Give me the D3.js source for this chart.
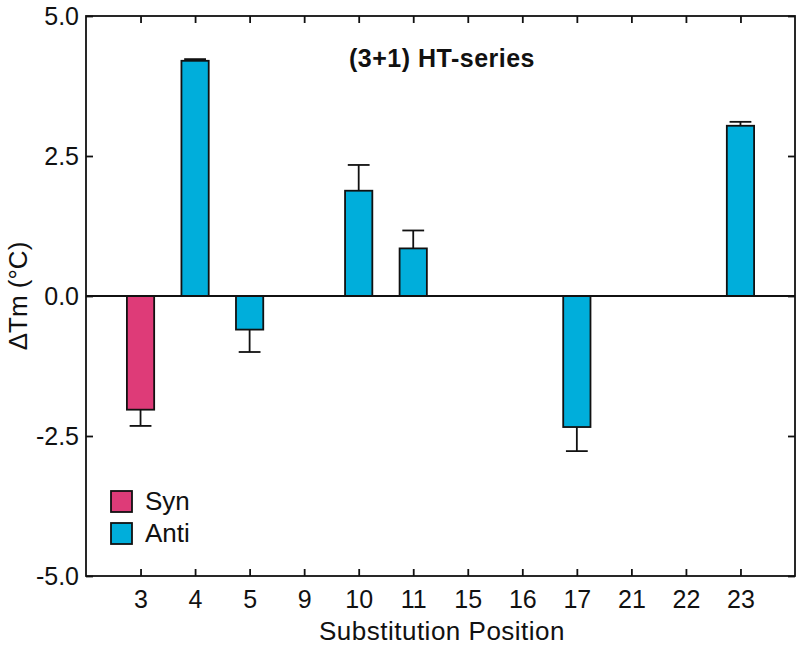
<!DOCTYPE html>
<html>
<head>
<meta charset="utf-8">
<script src="https://cdn.jsdelivr.net/npm/d3@7"></script>
<style>
  body { margin: 0; background: #fff; }
  text { font-family: "Liberation Sans", Arial, sans-serif; fill: #111; }
</style>
</head>
<body>
<svg id="chart" width="800" height="646"></svg>
<script>
// data
const positions = ["3", "4", "5", "9", "10", "11", "15", "16", "17", "21", "22", "23"];
const conformation = ["Syn", "Anti", "Anti", null, "Anti", "Anti", null, null, "Anti", null, null, "Anti"];
const deltaTm = [-2.03, 4.2, -0.6, null, 1.88, 0.85, null, null, -2.34, null, null, 3.04];
const errTm = [0.29, 0.03, 0.4, null, 0.46, 0.32, null, null, 0.43, null, null, 0.07];
const yTicks = [-5, -2.5, 0, 2.5, 5];
const legendItems = ["Syn", "Anti"];

const colors = { Syn: "#de3b78", Anti: "#00aedb" };

const svg = d3.select("#chart");
const margin = { top: 16, right: 5, bottom: 70, left: 86 };
const width = 800 - margin.left - margin.right;
const height = 646 - margin.top - margin.bottom;

const g = svg.append("g").attr("transform", `translate(${margin.left},${margin.top})`);

const x = d3.scalePoint().domain(positions).range([0, width]).padding(1);
const y = d3.scaleLinear().domain([-5, 5]).range([height, 0]);
const step = x.step();
const barW = step * 0.5;
const capW = step * 0.4;

const rows = positions.map((p, i) => ({ pos: p, conf: conformation[i], v: deltaTm[i], e: errTm[i] }))
    .filter(d => d.v !== null);

// axes (ticks point inward on all four sides)
const axisStyle = sel => {
    sel.select(".domain").remove();
    sel.selectAll("line").attr("stroke", "#111").attr("stroke-width", 1.8);
    sel.selectAll("text").style("font-size", "25px");
};

g.append("g").attr("transform", `translate(0,${height})`)
    .call(d3.axisBottom(x).tickSizeInner(-7).tickSizeOuter(0).tickPadding(14))
    .call(axisStyle);
g.append("g")
    .call(d3.axisTop(x).tickSizeInner(-7).tickSizeOuter(0).tickFormat(""))
    .call(axisStyle);
g.append("g")
    .call(d3.axisLeft(y).tickValues(yTicks).tickFormat(d => d.toFixed(1)).tickSizeInner(-7).tickSizeOuter(0).tickPadding(7))
    .call(axisStyle);
g.append("g").attr("transform", `translate(${width},0)`)
    .call(d3.axisRight(y).tickValues(yTicks).tickSizeInner(-7).tickSizeOuter(0).tickFormat(""))
    .call(axisStyle);

// error bars drawn on the side away from zero
const errs = g.append("g").attr("stroke", "#111").attr("stroke-width", 1.8);
errs.selectAll("line.stem")
    .data(rows)
    .join("line")
    .attr("class", "stem")
    .attr("x1", d => x(d.pos)).attr("x2", d => x(d.pos))
    .attr("y1", d => y(d.v))
    .attr("y2", d => y(d.v + Math.sign(d.v) * d.e));
errs.selectAll("line.cap")
    .data(rows)
    .join("line")
    .attr("class", "cap")
    .attr("x1", d => x(d.pos) - capW / 2).attr("x2", d => x(d.pos) + capW / 2)
    .attr("y1", d => y(d.v + Math.sign(d.v) * d.e))
    .attr("y2", d => y(d.v + Math.sign(d.v) * d.e));

// bars
g.append("g")
    .selectAll("rect")
    .data(rows)
    .join("rect")
    .attr("x", d => x(d.pos) - barW / 2)
    .attr("width", barW)
    .attr("y", d => y(Math.max(0, d.v)))
    .attr("height", d => Math.abs(y(d.v) - y(0)))
    .attr("fill", d => colors[d.conf])
    .attr("stroke", "#111")
    .attr("stroke-width", 1.8);

// zero line
g.append("line")
    .attr("x1", 0).attr("x2", width)
    .attr("y1", y(0)).attr("y2", y(0))
    .attr("stroke", "#111").attr("stroke-width", 1.8);

// frame
g.append("rect")
    .attr("width", width).attr("height", height)
    .attr("fill", "none").attr("stroke", "#111").attr("stroke-width", 1.8);

// title
g.append("text")
    .attr("x", 356).attr("y", 51)
    .attr("text-anchor", "middle")
    .style("font-size", "25px").style("font-weight", "bold").style("letter-spacing", "0.5px")
    .text("(3+1) HT-series");

// legend
const legend = g.append("g").attr("transform", "translate(25,475)");
legend.selectAll("rect")
    .data(legendItems)
    .join("rect")
    .attr("x", 0).attr("y", (d, i) => i * 32)
    .attr("width", 21).attr("height", 21)
    .attr("fill", d => colors[d])
    .attr("stroke", "#111").attr("stroke-width", 1.8);
legend.selectAll("text")
    .data(legendItems)
    .join("text")
    .attr("x", 34).attr("y", (d, i) => i * 32 + 19)
    .style("font-size", "26px")
    .text(d => d);

// axis titles
svg.append("text")
    .attr("x", 442).attr("y", 640)
    .attr("text-anchor", "middle")
    .style("font-size", "26px").style("letter-spacing", "0.5px")
    .text("Substitution Position");
svg.append("text")
    .attr("transform", `translate(27,${margin.top + y(0)}) rotate(-90)`)
    .attr("text-anchor", "middle")
    .style("font-size", "26px")
    .text("ΔTm (°C)");
</script>
</body>
</html>
